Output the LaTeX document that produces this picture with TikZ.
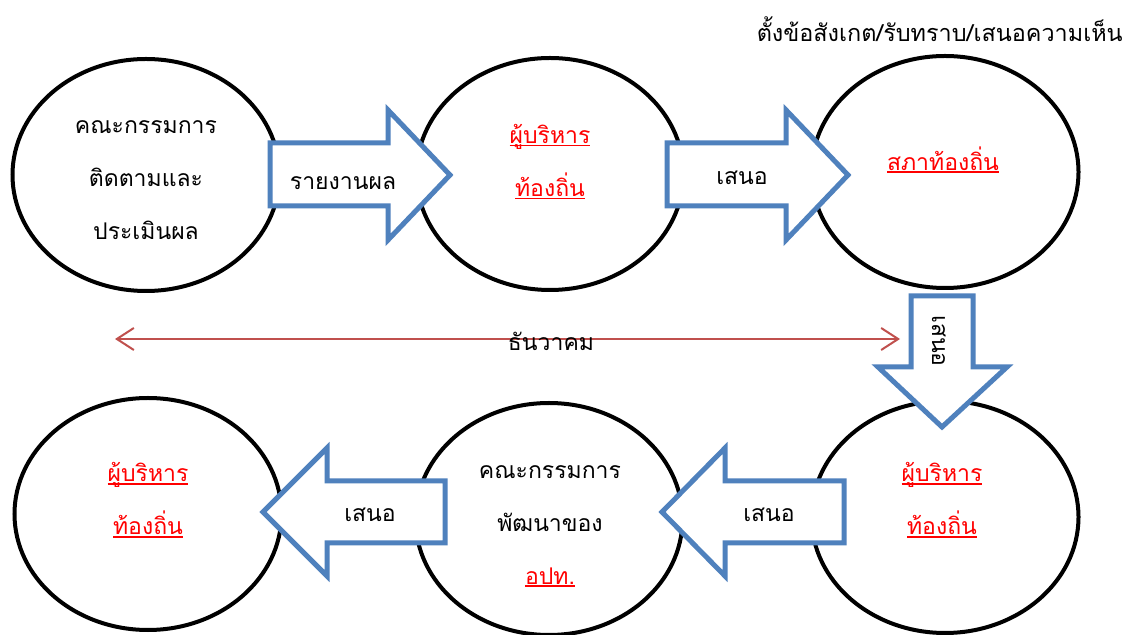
\documentclass[tikz,border=0pt]{standalone}
\usepackage{fontspec}
\newfontfamily\thaifont[Script=Thai]{Loma}
\usetikzlibrary{shapes.geometric,arrows.meta}
\definecolor{officeblue}{HTML}{4F81BD}
\definecolor{datered}{HTML}{C0504D}
\newcommand{\redul}[1]{{\color{red}\setbox0\hbox{#1}\leavevmode\rlap{\rule[-1.4pt]{\wd0}{0.9pt}}\box0}}
\begin{document}
\begin{tikzpicture}[x=0.5pt,y=-0.5pt,font=\thaifont\fontsize{11.5}{26.5}\selectfont,align=center]
        \useasboundingbox[fill=white] (0,0) rectangle (1135,635);
        \begin{scope}[every node/.style={ellipse,draw,line width=2pt,minimum width=133.5pt,minimum height=116pt}]
            \node (c1) at (146,175) {};
            \node (c2) at (550,174) {};
            \node (c3) at (945,172) {};
            \node (c4) at (148,514) {};
            \node (c5) at (549,519) {};
            \node (c6) at (945,517) {};
        \end{scope}
        \node (t1) at (146,180) {คณะกรรมการ\\ติดตามและ\\ประเมินผล};
        \node (t2) at (550,162) {\redul{ผู้บริหาร}\\\redul{ท้องถิ่น}};
        \node (t3) at (943,160) {\redul{สภาท้องถิ่น}};
        \node (t4) at (148,500) {\redul{ผู้บริหาร}\\\redul{ท้องถิ่น}};
        \node (t5) at (550,526) {คณะกรรมการ\\พัฒนาของ\\\redul{อปท.}};
        \node (t6) at (942,500) {\redul{ผู้บริหาร}\\\redul{ท้องถิ่น}};
        % block arrows
        \begin{scope}[draw=officeblue,fill=white,line width=2.5pt]
            \filldraw (270,143)--(388,143)--(388,110)--(450,175)--(388,240)--(388,206)--(270,206)--cycle;
            \filldraw (667,143)--(786,143)--(786,110)--(848,175)--(786,240)--(786,206)--(667,206)--cycle;
            \filldraw (911,296)--(973,296)--(973,367)--(1007,367)--(942,427)--(878,367)--(911,367)--cycle;
            \filldraw (844,481)--(725,481)--(725,448)--(662,512)--(725,576)--(725,543)--(844,543)--cycle;
            \filldraw (445,481)--(327,481)--(327,448)--(263,512)--(327,576)--(327,543)--(445,543)--cycle;
        \end{scope}
        \node[anchor=base] (a1) at (343,190) {รายงานผล};
        \node[anchor=base] (a2) at (742,185) {เสนอ};
        \node[anchor=base,rotate=-90] (a3) at (932,341) {เสนอ};
        \node[anchor=base] (a4) at (769,522) {เสนอ};
        \node[anchor=base] (a5) at (370,522) {เสนอ};
        % month line
        \coordinate (m0) at (115,339);
        \coordinate (m1) at (900,339);
        \draw[datered,line width=1pt,{Straight Barb[length=8.5pt,width=11pt]}-{Straight Barb[length=8.5pt,width=11pt]}] (m0)--(m1);
        \node[anchor=base] (month) at (551,351) {ธันวาคม};
        \node[anchor=base east,inner sep=0pt,font=\thaifont\fontsize{11.7}{14}\selectfont] (note) at (1123,42) {ตั้งข้อสังเกต/รับทราบ/เสนอความเห็น};
    \end{tikzpicture}
\end{document}
